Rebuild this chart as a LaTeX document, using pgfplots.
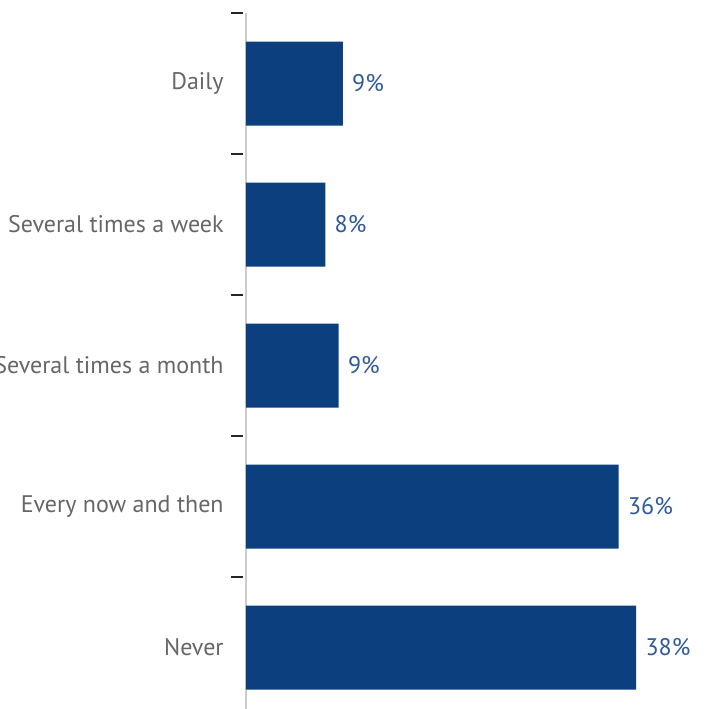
\documentclass[border=0pt]{standalone}
\usepackage{pgfplots}
\pgfplotsset{compat=1.18}
\usepackage{fontspec}
\setmainfont{PT Sans}
\definecolor{barblue}{HTML}{0B3F7E}
\definecolor{lblblue}{HTML}{2E5A98}
\definecolor{lblgray}{HTML}{666666}
\begin{document}
\begin{tikzpicture}
\path[use as bounding box] (0,0) rectangle (353pt,354.5pt);
\begin{axis}[
  at={(123pt,-4.5pt)}, anchor=south west,
  scale only axis, width=226.5pt, height=352.5pt,
  xbar, bar width=42pt, bar shift=0pt,
  xmin=0, xmax=44,
  ymin=-0.5, ymax=4.5, y dir=reverse,
  axis x line=none,
  axis y line*=left,
  y axis line style={draw=black!20, line width=1pt},
  ytick={0,1,2,3,4},
  yticklabels={Daily, Several times a week, Several times a month, Every now and then, Never},
  major tick length=0pt,
  minor ytick={-0.5,0.5,1.5,2.5,3.5},
  minor tick length=6pt,
  tick align=outside,
  minor tick style={black!85, line width=1pt, xshift=-1.5pt},
  y tick label style={font=\fontsize{12}{14}\selectfont, text=lblgray, inner sep=0pt, xshift=-11pt},
  nodes near coords={\pgfmathprintnumber[fixed,precision=0]{\pgfplotspointmeta}\%},
  nodes near coords style={font=\fontsize{12}{14}\selectfont, text=lblblue, inner sep=0pt, xshift=4.5pt, anchor=west},
  /pgf/number format/assume math mode=true,
  clip=false,
]
\addplot[fill=barblue, draw=none] coordinates {(9.4,0) (7.7,1) (9.0,2) (36.2,3) (37.9,4)};
\end{axis}
\end{tikzpicture}
\end{document}
